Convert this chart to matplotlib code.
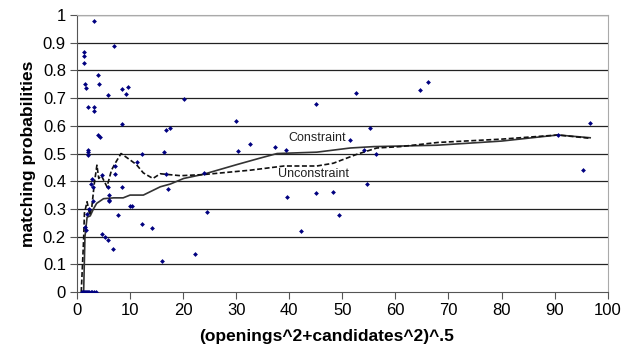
import matplotlib
matplotlib.use("Agg")
import matplotlib.pyplot as plt

plt.rcParams['font.family'] = ['Liberation Sans', 'DejaVu Sans']

# scatter observations
pts_x = [3.2, 1.25, 1.25, 1.4, 3.95, 1.45, 4.1, 1.75, 7.0, 5.8, 8.5, 9.65, 9.15,
         2.0, 3.2, 3.2, 20.1, 8.4, 3.9, 4.3, 2.05, 2.05, 2.1, 16.7, 17.6, 30.0,
         32.6, 30.4, 16.4, 12.2, 11.4, 7.15, 4.8, 7.15, 2.8, 2.55, 2.95, 5.85,
         8.55, 16.7, 17.1, 24.0, 6.0, 6.0, 6.0, 3.1, 10.0, 10.4, 7.65, 24.5,
         4.75, 5.2, 5.9, 6.7, 12.3, 14.2, 16.0, 22.3, 1.56, 1.7, 1.9, 2.3,
         45.1, 52.5, 64.7, 66.2, 55.2, 51.4, 37.4, 39.4, 54.0, 56.3, 39.5,
         45.0, 48.3, 54.6, 49.3, 42.2, 96.7, 90.6, 95.4,
         0.9, 1.1, 1.3, 1.5, 1.7, 1.9, 2.1, 2.3, 2.6, 2.9, 3.2, 3.5]
pts_y = [0.98, 0.868, 0.852, 0.826, 0.785, 0.752, 0.752, 0.736, 0.887, 0.71,
         0.732, 0.739, 0.715, 0.669, 0.669, 0.654, 0.698, 0.607, 0.566, 0.561,
         0.514, 0.504, 0.494, 0.586, 0.593, 0.616, 0.534, 0.509, 0.504, 0.497,
         0.468, 0.455, 0.423, 0.427, 0.409, 0.39, 0.38, 0.38, 0.38, 0.426,
         0.371, 0.428, 0.35, 0.334, 0.33, 0.33, 0.31, 0.31, 0.278, 0.289,
         0.208, 0.2, 0.188, 0.156, 0.247, 0.23, 0.112, 0.136, 0.236, 0.225,
         0.28, 0.3,
         0.68, 0.718, 0.728, 0.757, 0.592, 0.549, 0.523, 0.513, 0.514, 0.498,
         0.344, 0.356, 0.362, 0.389, 0.278, 0.221, 0.61, 0.568, 0.441,
         0, 0, 0, 0, 0, 0, 0, 0, 0, 0, 0, 0]

# constraint curve (solid)
con_x = [1.25, 1.5, 1.9, 2.5, 3.1, 3.7, 5.0, 6.9, 8.7, 10.0, 12.5, 14.1, 15.7,
         17.6, 20.1, 23.8, 30.1, 34.4, 37.7, 45.2, 51.5, 55.9, 67.8, 80.0,
         90.6, 96.7]
con_y = [0.0, 0.2, 0.27, 0.275, 0.3, 0.32, 0.337, 0.34, 0.34, 0.35, 0.35, 0.365,
         0.38, 0.39, 0.41, 0.425, 0.46, 0.483, 0.5, 0.505, 0.52, 0.525, 0.53,
         0.545, 0.567, 0.557]

# unconstraint curve (dashed)
unc_x = [0.8, 1.25, 1.4, 1.9, 2.4, 2.8, 3.25, 3.75, 4.1, 4.6, 5.65, 6.5, 7.2,
         8.3, 10.0, 11.2, 12.5, 14.3, 15.7, 19.5, 23.8, 32.7, 39.0, 45.2, 48.3,
         52.7, 56.5, 60.9, 68.0, 80.0, 90.6, 96.7]
unc_y = [0.0, 0.19, 0.285, 0.326, 0.278, 0.308, 0.39, 0.458, 0.41, 0.42, 0.38,
         0.44, 0.465, 0.5, 0.477, 0.46, 0.43, 0.41, 0.427, 0.42, 0.424, 0.44,
         0.455, 0.455, 0.465, 0.497, 0.52, 0.525, 0.54, 0.552, 0.567, 0.555]

ytick_labels = ['0', '0.1', '0.2', '0.3', '0.4', '0.5', '0.6', '0.7', '0.8', '0.9', '1']

fig = plt.figure(figsize=(6.39, 3.46), dpi=100)
ax = fig.add_axes([0.1205, 0.156, 0.8305, 0.8005])

for yy in [i / 10 for i in range(1, 11)]:
    ax.axhline(yy, color='#222222', lw=0.9, zorder=1)

ax.plot(con_x, con_y, color='#333333', lw=1.2, zorder=3)
ax.plot(unc_x, unc_y, color='#111111', lw=1.2, ls=(0, (3, 1.5)), zorder=3)
ax.scatter(pts_x, pts_y, marker='D', s=6, color='#000080', zorder=4, lw=0)

ax.text(45.2, 0.556, 'Constraint', fontsize=9, ha='center', va='center', color='#222222')
ax.text(44.5, 0.426, 'Unconstraint', fontsize=9, ha='center', va='center', color='#222222')

ax.set_xlim(0, 100)
ax.set_ylim(0, 1)
ax.set_xticks(range(0, 101, 10))
ax.set_yticks([i / 10 for i in range(11)])
ax.set_yticklabels(ytick_labels)
ax.tick_params(labelsize=12, length=5, color='#555555', direction='out', pad=3)

for side in ['top', 'right']:
    ax.spines[side].set_color('#aaaaaa')
for side in ['left', 'bottom']:
    ax.spines[side].set_color('#555555')

ax.set_xlabel('(openings^2+candidates^2)^.5', fontsize=12.5, fontweight='bold')
ax.xaxis.set_label_coords(0.47, -0.135)
ax.set_ylabel('matching probabilities', fontsize=12.5, fontweight='bold', labelpad=5)

fig.savefig('out.png', dpi=100)
